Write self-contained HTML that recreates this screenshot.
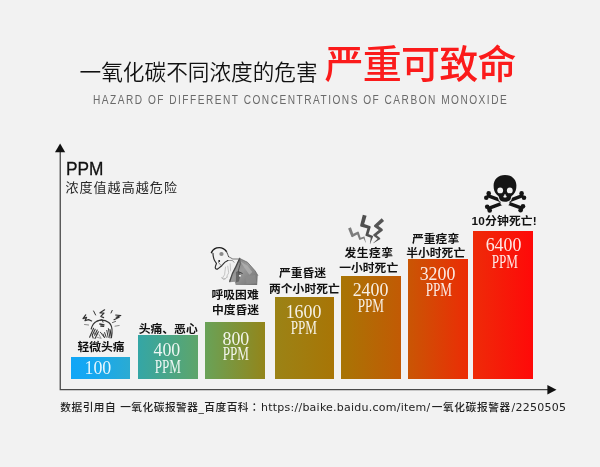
<!DOCTYPE html>
<html lang="zh-CN">
<head>
<meta charset="utf-8">
<title>一氧化碳不同浓度的危害</title>
<style>
html,body{margin:0;padding:0;}
body{width:600px;height:467px;overflow:hidden;background:#f2f2f2;position:relative;
  font-family:"Liberation Sans","Noto Sans CJK SC",sans-serif;color:#1a1a1a;}
.abs{position:absolute;white-space:nowrap;line-height:1;}
#bg{position:absolute;left:0;top:0;width:600px;height:467px;background:#f2f2f2;}
#t1{left:79.6px;top:61.7px;font-size:21.65px;font-weight:350;color:#111;letter-spacing:0;}
#t2{left:324.6px;top:45.4px;font-size:39px;letter-spacing:-0.75px;font-weight:500;color:#fb1b1b;}
#t3{left:93.2px;top:95.3px;font-size:11.9px;color:#6a6a6a;letter-spacing:1.75px;transform:scaleX(0.852);transform-origin:0 0;}
#ppm{left:66.2px;top:159.6px;font-size:18.2px;color:#111;-webkit-text-stroke:0.3px #111;transform:scaleX(0.95);transform-origin:0 0;}
#sub{left:65.4px;top:180.5px;font-size:13px;color:#262626;letter-spacing:1.07px;}
#src{left:60.3px;top:401.9px;font-size:10.7px;color:#222;letter-spacing:0.5px;font-weight:500;font-family:"DejaVu Sans","Noto Sans CJK SC",sans-serif;}
.bar{position:absolute;}
.num{position:absolute;left:0;width:100%;text-align:center;color:rgba(255,255,255,0.9);font-family:"Liberation Serif",serif;line-height:1;white-space:nowrap;}
.num span{display:inline-block;transform-origin:50% 50%;}
.n1{font-size:18.5px;}
.n1 span{transform:scaleX(0.965);}
.n2{font-size:17.8px;}
.n2 span{transform:scaleX(0.74);}
#s2{margin-left:0.8px;letter-spacing:0.24px;font-size:11px;font-weight:400;}
#s3{margin-left:1.2px;letter-spacing:0.64px;}
#s4{margin-left:0.6px;font-size:11px;letter-spacing:0.27px;font-weight:400;}
.ln{position:absolute;white-space:nowrap;line-height:14px;font-size:11.8px;font-weight:700;color:#111;transform:scaleY(0.93);transform-origin:0 50%;}
</style>
</head>
<body>
<div id="bg"></div>

<div class="abs" id="t1">一氧化碳不同浓度的危害</div>
<div class="abs" id="t2">严重可致命</div>
<div class="abs" id="t3">HAZARD OF DIFFERENT CONCENTRATIONS OF CARBON MONOXIDE</div>

<!-- axes -->
<svg class="abs" style="left:0;top:0" width="600" height="467" viewBox="0 0 600 467">
  <path d="M60.25 150 V389.6 H548" fill="none" stroke="#4a4a4a" stroke-width="1.3"/>
  <path d="M60.1 143.6 L65.2 152.3 H55 Z" fill="#111"/>
  <path d="M556.5 389.7 L547.4 384.9 V394.5 Z" fill="#111"/>
</svg>

<div class="abs" id="ppm">PPM</div>
<div class="abs" id="sub">浓度值越高越危险</div>

<!-- bars -->
<div class="bar" style="left:70.7px;top:356.8px;width:59.7px;height:21.8px;background:linear-gradient(90deg,#10a6f7 0%,#18a8ee 45%,#2babd2 100%);">
  <div class="num n1" style="top:2.4px;left:-3.1px"><span>100</span></div>
</div>
<div class="bar" style="left:138.2px;top:335.4px;width:60.2px;height:43.2px;background:linear-gradient(90deg,#34a6a6,#5ea56a);">
  <div class="num n1" style="top:5.7px;left:-1.1px"><span>400</span></div>
  <div class="num n2" style="top:23.15px;left:-0.7px"><span>PPM</span></div>
</div>
<div class="bar" style="left:205.4px;top:321.9px;width:59.9px;height:56.8px;background:linear-gradient(90deg,#69a258,#93851a);">
  <div class="num n1" style="top:7.65px;left:0.3px"><span>800</span></div>
  <div class="num n2" style="top:24.55px;left:0.3px"><span>PPM</span></div>
</div>
<div class="bar" style="left:275px;top:297.3px;width:59.4px;height:81.4px;background:linear-gradient(90deg,#9b8316,#a87506);">
  <div class="num n1" style="top:5.4px;left:-1.4px"><span>1600</span></div>
  <div class="num n2" style="top:22.4px;left:-0.8px"><span>PPM</span></div>
</div>
<div class="bar" style="left:341.3px;top:276.3px;width:60px;height:102.4px;background:linear-gradient(90deg,#a87505,#c25a04);">
  <div class="num n1" style="top:4.85px;left:-1px"><span>2400</span></div>
  <div class="num n2" style="top:22px;left:-0.3px"><span>PPM</span></div>
</div>
<div class="bar" style="left:408px;top:259.4px;width:59.8px;height:119.3px;background:linear-gradient(90deg,#c95604,#ec2c05);">
  <div class="num n1" style="top:5.45px;left:0px"><span>3200</span></div>
  <div class="num n2" style="top:22.8px;left:1px"><span>PPM</span></div>
</div>
<div class="bar" style="left:473.2px;top:231.1px;width:59.4px;height:147.6px;background:linear-gradient(90deg,#ee2b08,#ff0909);">
  <div class="num n1" style="top:5.25px;left:0.9px"><span>6400</span></div>
  <div class="num n2" style="top:22.8px;left:1.7px"><span>PPM</span></div>
</div>


<!-- skull and crossbones -->
<svg class="abs" style="left:0;top:0" width="600" height="467" viewBox="0 0 600 467">
  <g id="skull" fill="#151515" stroke="none">
    <g stroke="#151515" stroke-width="3.5" stroke-linecap="round">
      <line x1="488.4" y1="195.9" x2="521.8" y2="208.2"/>
      <line x1="521.8" y1="195.9" x2="488.6" y2="208.4"/>
    </g>
    <circle cx="488.7" cy="193.4" r="2.3"/><circle cx="486.3" cy="197.7" r="2.3"/>
    <circle cx="521.6" cy="193.4" r="2.3"/><circle cx="524" cy="197.7" r="2.3"/>
    <circle cx="487.2" cy="206.8" r="2.3"/><circle cx="489.7" cy="210.4" r="2.3"/>
    <circle cx="523" cy="206.3" r="2.3"/><circle cx="520.6" cy="210.3" r="2.3"/>
    <ellipse cx="505" cy="203" rx="4.6" ry="2.6" fill="#f2f2f2"/>
    <path d="M505 174.9 C511.8 174.9 516.4 179.4 516.4 185.6 C516.4 189.4 515.6 192.2 513.6 194.2 C512.2 195.6 511.2 196 511 197.4 C510.8 200.2 508.6 201.7 505 201.7 C501.4 201.7 499.2 200.2 499 197.4 C498.8 196 497.8 195.6 496.4 194.2 C494.4 192.2 493.6 189.4 493.6 185.6 C493.6 179.4 498.2 174.9 505 174.9 Z" stroke="#f2f2f2" stroke-width="2" paint-order="stroke"/>
    <circle cx="500.2" cy="190.4" r="2.9" fill="#f2f2f2"/>
    <circle cx="509.8" cy="190.4" r="2.9" fill="#f2f2f2"/>
    <path d="M505 194.2 L506.5 197 Q505 197.7 503.5 197 Z" fill="#f2f2f2" stroke="#f2f2f2" stroke-width="0.5" stroke-linejoin="round"/>
  </g>
</svg>

<!-- lightning -->
<svg class="abs" style="left:0;top:0" width="600" height="467" viewBox="0 0 600 467">
  <defs><filter id="bl" x="-10%" y="-10%" width="120%" height="120%"><feGaussianBlur stdDeviation="0.35"/></filter></defs>
  <g filter="url(#bl)">
    <path d="M348.11 228.40 L351.51 236.91 L354.03 235.95 L350.91 227.33Z M352.18 237.17 L359.09 233.55 L358.07 231.49 L350.99 234.75Z M356.51 232.49 L359.23 239.87 L361.12 239.22 L358.68 231.74Z M359.65 240.07 L364.73 237.96 L364.12 236.38 L358.94 238.20Z M362.87 237.11 L365.70 242.68 L365.88 242.61 L364.46 236.53Z" fill="#7d7d7d"/>
    <path d="M362.82 214.83 L360.02 225.83 L363.40 226.76 L366.59 215.86Z M360.34 226.41 L369.66 229.05 L370.53 226.29 L361.40 223.07Z M368.03 225.98 L365.31 235.40 L367.90 236.17 L370.81 226.81Z M365.51 235.80 L372.22 238.16 L373.05 236.01 L366.48 233.28Z M370.98 235.73 L369.87 244.03 L370.06 244.09 L373.20 236.31Z" fill="#505050"/>
    <path d="M381.71 218.34 L373.85 225.47 L376.03 227.95 L384.09 221.04Z M373.90 226.61 L381.20 231.64 L382.90 229.29 L375.84 223.93Z M381.13 228.10 L373.09 234.69 L374.64 236.65 L382.93 230.38Z M373.10 235.57 L379.08 240.00 L380.37 238.34 L374.63 233.60Z M379.11 237.44 L373.24 242.98 L373.36 243.14 L380.36 239.12Z" fill="#555555"/>
  </g>
</svg>

<!-- headache sketch -->
<svg class="abs" style="left:0;top:0" width="600" height="467" viewBox="0 0 600 467">
  <defs><filter id="bl2" x="-10%" y="-10%" width="120%" height="120%"><feGaussianBlur stdDeviation="4"/></filter></defs>
  <g transform="translate(70 300) scale(0.1)" fill="none" stroke="#333" stroke-width="11" stroke-linecap="round" stroke-linejoin="round" filter="url(#bl2)">
    <!-- pain marks -->
    <path d="M157 148 L130 186 L166 174 L150 206 L186 196 L216 210" stroke-width="12"/>
    <path d="M236 110 L256 150" stroke-width="10"/>
    <path d="M346 98 L300 128 L340 130 L308 164 L336 176" stroke-width="12"/>
    <path d="M422 104 L410 130" stroke-width="10"/>
    <path d="M456 150 L508 156 L462 172 L492 172 L440 198" stroke-width="11"/>
    <path d="M424 226 L456 214" stroke="#666" stroke-width="10"/>
    <path d="M450 262 L492 255" stroke="#888" stroke-width="10"/>
    <path d="M145 245 L186 250" stroke="#888" stroke-width="10"/>
    <!-- head dome -->
    <path d="M212 290 C222 250 240 225 268 212 C300 198 350 200 388 224 C412 242 424 280 420 330 L414 376" stroke-width="12"/>
    <path d="M268 212 L322 196 L330 222" stroke-width="10"/>
    <path d="M298 240 L340 248 M308 260 L336 264" stroke-width="13"/>
    <!-- left hair / fingers -->
    <path d="M236 282 L196 372 M252 292 L222 352 L232 380 M272 300 L246 352 M284 318 L250 384" stroke-width="11" stroke="#3a3a3a"/>
    <path d="M240 330 L270 345" stroke-width="9" stroke="#555"/>
    <path d="M268 372 L312 384 L290 346" stroke="#777" stroke-width="7"/>
    <!-- right hair -->
    <path d="M384 286 L400 380 M368 304 L382 374 M346 326 L362 372 M330 340 L346 378 L304 322" stroke-width="10" stroke="#3a3a3a"/>
    <path d="M400 296 L412 360" stroke-width="12"/>
  </g>
</svg>

<!-- coughing man sketch -->
<svg class="abs" style="left:0;top:0" width="600" height="467" viewBox="0 0 600 467">
  <defs>
    <filter id="bl3" x="-10%" y="-10%" width="120%" height="120%"><feGaussianBlur stdDeviation="4"/></filter>
    <linearGradient id="jk" x1="0" y1="0" x2="1" y2="1">
      <stop offset="0" stop-color="#7a7a7a"/><stop offset="0.45" stop-color="#9a9a9a"/><stop offset="1" stop-color="#6e6e6e"/>
    </linearGradient>
  </defs>
  <g transform="translate(207 243) scale(0.09643)" fill="none" stroke="#333" stroke-width="9" stroke-linecap="round" stroke-linejoin="round" filter="url(#bl3)">
    <!-- jacket -->
    <path d="M338 160 L420 200 L500 290 L526 335 L520 436 L298 436 L288 402 L238 408 L230 385 L270 300 L310 215 Z" fill="url(#jk)" stroke="none"/>
    <path d="M345 190 L420 235 L470 300 L440 330 L390 260 Z" fill="#b4b4b4" stroke="none" opacity="0.7"/>
    <path d="M300 300 L330 290 L350 330 L330 400 L300 410 Z" fill="#5a5a5a" stroke="none" opacity="0.8"/>
    <path d="M400 350 L500 330 L515 420 L410 425 Z" fill="#8c8c8c" stroke="none" opacity="0.8"/>
    <path d="M338 160 L300 245 L262 320 L236 400" stroke="#4a4a4a" stroke-width="13"/>
    <path d="M338 160 L345 215 L322 300 L335 330" stroke="#555" stroke-width="10"/>
    <path d="M338 160 L420 200 L500 290 L526 335" stroke="#666" stroke-width="8"/>
    <circle cx="342" cy="340" r="11" fill="#f4f4f4" stroke="none"/>
    <path d="M330 300 L365 315" stroke="#3a3a3a" stroke-width="10"/>
    <!-- shirt / arm -->
    <path d="M192 250 L182 330 L160 362 L188 372 M215 240 L225 310 L205 345 M240 215 L245 290" stroke="#bdbdbd" stroke-width="9"/>
    <path d="M150 360 L175 380 L215 350" stroke="#aaa" stroke-width="8"/>
    <!-- neck -->
    <path d="M224 142 L268 166 L330 166" stroke="#555" stroke-width="8"/>
    <path d="M215 182 L262 180 L280 200" stroke="#777" stroke-width="8"/>
    <!-- head -->
    <path d="M46 100 C60 68 95 48 128 48 C160 48 185 66 202 88" stroke="#1e1e1e" stroke-width="15"/>
    <path d="M62 108 C62 140 72 178 98 212 L88 240 C80 262 92 276 112 268 L150 238 L162 224 C176 206 196 190 216 182" stroke="#2c2c2c" stroke-width="12"/>
    <path d="M202 88 C212 110 218 126 224 142" stroke="#444" stroke-width="10"/>
    <ellipse cx="150" cy="114" rx="22" ry="20" fill="#8a8a8a" stroke="none"/>
    <circle cx="126" cy="186" r="10" fill="#1c1c1c" stroke="none"/>
    <path d="M118 200 L150 238" stroke="#666" stroke-width="7"/>
  </g>
</svg>

<!-- labels -->
<div class="ln" id="l1" style="left:77.40px;top:340.40px;letter-spacing:0.0px">轻微头痛</div>
<div class="ln" id="l2" style="left:138.70px;top:321.70px;letter-spacing:0.0px">头痛、恶心</div>
<div class="ln" id="l3a" style="left:211.50px;top:287.90px;letter-spacing:0.0px">呼吸困难</div>
<div class="ln" id="l3b" style="left:211.90px;top:303.10px;letter-spacing:0.0px">中度昏迷</div>
<div class="ln" id="l4a" style="left:278.90px;top:265.90px;letter-spacing:0.0px">严重昏迷</div>
<div class="ln" id="l4b" style="left:269.00px;top:281.60px;letter-spacing:0.0px">两个小时死亡</div>
<div class="ln" id="l5a" style="left:344.60px;top:246.10px;letter-spacing:0.45px">发生痉挛</div>
<div class="ln" id="l5b" style="left:339.20px;top:261.20px;letter-spacing:0.0px">一小时死亡</div>
<div class="ln" id="l6a" style="left:412.00px;top:231.70px;letter-spacing:0.0px">严重痉挛</div>
<div class="ln" id="l6b" style="left:406.20px;top:246.40px;letter-spacing:0.0px">半小时死亡</div>
<div class="ln" id="l7" style="left:471.60px;top:213.90px;letter-spacing:0.15px">10分钟死亡!</div>

<div class="abs" id="src"><span id="s1">数据引用自 一氧化碳报警器_百度百科<span lang="ja" style="font-family:'Noto Sans CJK JP',sans-serif">：</span></span><span id="s2">https://baike.baidu.com/item/</span><span id="s3">一氧化碳报警器</span><span id="s4">/2250505</span></div>
</body>
</html>
